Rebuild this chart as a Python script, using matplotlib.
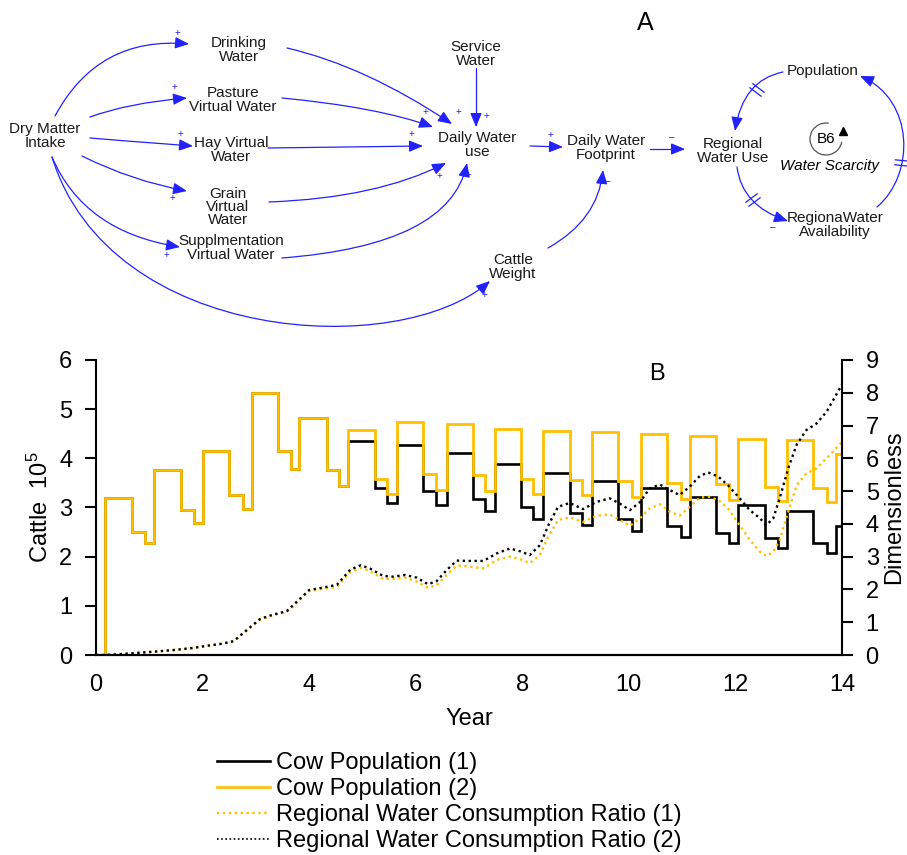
import matplotlib
matplotlib.use('Agg')
import matplotlib.pyplot as plt
from matplotlib.path import Path
from matplotlib.patches import FancyArrowPatch, Arc
from matplotlib.lines import Line2D

plt.rcParams['font.family'] = ['Liberation Sans', 'DejaVu Sans']
plt.rcParams['mathtext.default'] = 'regular'

# ---------------- panel B data ----------------
step_edges = [0, 0.17, 0.67, 0.92,
              1.09, 1.59, 1.84, 2.00, 2.50, 2.75, 2.92, 3.42, 3.66,
              3.81, 4.33, 4.56, 4.73, 5.23, 5.47, 5.65, 6.14, 6.39,
              6.58, 7.07, 7.30, 7.49, 7.98, 8.21, 8.39, 8.89, 9.13,
              9.31, 9.80, 10.05, 10.22, 10.71, 10.97, 11.14, 11.63, 11.88,
              12.05, 12.55, 12.80, 12.96, 13.46, 13.71, 13.88, 14.0]

cow_pop_2 = [0, 3.20, 2.51, 2.28,
             3.77, 2.95, 2.69, 4.15, 3.25, 2.96, 5.32, 4.14, 3.79,
             4.82, 3.76, 3.43, 4.57, 3.58, 3.27, 4.73, 3.68, 3.36,
             4.70, 3.66, 3.33, 4.59, 3.58, 3.27, 4.55, 3.56, 3.25,
             4.53, 3.54, 3.22, 4.49, 3.50, 3.18, 4.45, 3.47, 3.15,
             4.40, 3.42, 3.14, 4.37, 3.39, 3.12, 4.09]

cow_pop_1 = [0, 3.20, 2.51, 2.28,
             3.77, 2.95, 2.69, 4.15, 3.25, 2.96, 5.32, 4.14, 3.79,
             4.82, 3.76, 3.43, 4.36, 3.40, 3.10, 4.28, 3.33, 3.05,
             4.10, 3.18, 2.93, 3.88, 3.01, 2.76, 3.71, 2.88, 2.64,
             3.54, 2.76, 2.53, 3.39, 2.63, 2.39, 3.22, 2.49, 2.28,
             3.05, 2.38, 2.18, 2.93, 2.27, 2.08, 2.63]

ratio_t = [0, 0.17, 0.5, 0.83, 1.15, 1.45, 1.8, 2.08, 2.35, 2.58,
           2.83, 3.08, 3.3, 3.58, 3.83, 4.0, 4.27, 4.52, 4.77, 4.97,
           5.14, 5.39, 5.58, 5.8, 6.02, 6.23, 6.39, 6.58, 6.77, 6.99,
           7.27, 7.52, 7.77, 7.95, 8.14, 8.33, 8.49, 8.67, 8.89, 9.14,
           9.39, 9.64, 9.83, 10.02, 10.21, 10.39, 10.58, 10.77, 10.95, 11.14,
           11.33, 11.49, 11.68, 11.86, 12.08, 12.27, 12.46, 12.58, 12.71, 12.83,
           12.99, 13.15, 13.33, 13.52, 13.71, 14.0]

ratio_2 = [0, 0, 0.03, 0.07, 0.11, 0.15, 0.21, 0.28, 0.34, 0.42,
           0.76, 1.1, 1.22, 1.34, 1.72, 1.98, 2.06, 2.14, 2.6, 2.74,
           2.64, 2.41, 2.39, 2.44, 2.36, 2.16, 2.25, 2.59, 2.88, 2.87,
           2.87, 3.10, 3.25, 3.17, 3.05, 3.35, 3.96, 4.52, 4.64, 4.45,
           4.67, 4.78, 4.62, 4.42, 4.67, 5.08, 5.20, 5.03, 4.88, 5.13,
           5.46, 5.57, 5.44, 5.18, 4.78, 4.42, 4.17, 3.96, 4.17, 4.78,
           5.69, 6.42, 6.86, 7.06, 7.42, 8.25]

ratio_1 = [0, 0, 0.03, 0.07, 0.11, 0.15, 0.21, 0.28, 0.34, 0.42,
           0.75, 1.08, 1.2, 1.31, 1.68, 1.95, 2.02, 2.08, 2.52, 2.66,
           2.56, 2.32, 2.32, 2.36, 2.24, 2.05, 2.13, 2.44, 2.73, 2.70,
           2.64, 2.90, 3.0, 2.93, 2.80, 3.05, 3.61, 4.12, 4.20, 4.06,
           4.25, 4.29, 4.12, 3.94, 4.17, 4.47, 4.60, 4.37, 4.25, 4.52,
           4.80, 4.83, 4.73, 4.47, 3.96, 3.51, 3.15, 3.02, 3.15, 3.51,
           4.37, 5.18, 5.54, 5.69, 6.0, 6.5]

legend_labels = ['Cow Population (1)', 'Cow Population (2)',
                 'Regional Water Consumption Ratio (1)',
                 'Regional Water Consumption Ratio (2)']

# ---------------- panel A (causal loop diagram) ----------------
nodes = [
    ('Dry Matter\nIntake', 45, 136),
    ('Drinking\nWater', 239, 50),
    ('Pasture\nVirtual Water', 233, 100),
    ('Hay Virtual\nWater', 231, 150),
    ('Grain\nVirtual\nWater', 228, 207),
    ('Supplmentation\nVirtual Water', 231, 248),
    ('Service\nWater', 476, 54),
    ('Daily Water\nuse', 477, 145),
    ('Daily Water\nFootprint', 606, 148),
    ('Regional\nWater Use', 733, 151),
    ('Population', 823, 71),
    ('RegionaWater\nAvailability', 835, 225),
    ('Cattle\nWeight', 513, 267),
]

links = [
    [(55, 116), (98, 36), (189, 44)],
    [(90, 117), (128, 103), (187, 98)],
    [(90, 138), (125, 141), (193, 146)],
    [(82, 156), (132, 181), (187, 191)],
    [(52, 157), (84, 232), (180, 247)],
    [(52, 157), (110, 345), (400, 360), (490, 281)],
    [(287, 48), (365, 66), (452, 124)],
    [(282, 98), (377, 107), (433, 127)],
    [(268, 148), (345, 147), (423, 146)],
    [(269, 202), (377, 198), (446, 163)],
    [(282, 258), (450, 245), (467, 163)],
    [(476, 68), (476, 127)],
    [(530, 146), (563, 147)],
    [(650, 149), (685, 149)],
    [(548, 248), (598, 220), (603, 170)],
    [(783, 72), (743, 80), (735, 131)],
    [(737, 167), (742, 206), (788, 221)],
    [(877, 207), (915, 175), (915, 100), (860, 76)],
]

plus_signs = [(177, 33), (174, 87), (180, 134), (172, 198), (166, 255),
              (425, 112), (411, 134), (439, 176), (458, 112), (486, 116),
              (468, 175), (550, 135), (484, 295)]
minus_signs = [(672, 137), (608, 181), (773, 227)]
# delays: centre and curve direction
delays = [(757, 90, (-0.6, 0.8)), (753, 200, (0.6, 0.8)), (902, 163, (0.1, -1.0))]

blue = '#2222ff'
gold = '#FFC000'

fig = plt.figure(figsize=(9.07, 8.55), dpi=100)

axd = fig.add_axes([0, 1 - 330 / 855, 1, 330 / 855])
axd.set_xlim(0, 907)
axd.set_ylim(330, 0)
axd.axis('off')

for txt, x, y in nodes:
    axd.text(x, y, txt, ha='center', va='center', fontsize=11,
             linespacing=0.95, color='#1a1a1a')

codes_for = {2: [Path.MOVETO, Path.LINETO],
             3: [Path.MOVETO, Path.CURVE3, Path.CURVE3],
             4: [Path.MOVETO, Path.CURVE4, Path.CURVE4, Path.CURVE4]}
for pts in links:
    arr = FancyArrowPatch(path=Path(pts, codes_for[len(pts)]),
                          arrowstyle='-|>,head_length=0.65,head_width=0.27',
                          mutation_scale=13, color=blue, lw=0.9)
    axd.add_patch(arr)

for x, y in plus_signs:
    axd.text(x, y, '+', ha='center', va='center', fontsize=7, color=blue)
for x, y in minus_signs:
    axd.text(x, y, '\u2013', ha='center', va='center', fontsize=7, color='#333333')

for cx, cy, (dx, dy) in delays:
    n = (dx ** 2 + dy ** 2) ** 0.5
    dx, dy = dx / n, dy / n
    px, py = -dy, dx
    for off in (-2.5, 2.5):
        x0, y0 = cx + off * dx, cy + off * dy
        axd.plot([x0 - 7 * px, x0 + 7 * px], [y0 - 7 * py, y0 + 7 * py],
                 color=blue, lw=0.9)

axd.add_patch(Arc((826, 139), 32, 32, theta1=10, theta2=280, color='#555555', lw=0.9))
axd.plot(843, 131, marker='^', color='black', ms=6)
axd.text(826, 139, 'B6', ha='center', va='center', fontsize=11)
axd.text(829, 166, 'Water Scarcity', ha='center', va='center', fontsize=11,
         style='italic')
axd.text(645, 23, 'A', ha='center', va='center', fontsize=18)

# ---------------- panel B ----------------
ax = fig.add_axes([96 / 907, 200 / 855, 746 / 907, 295 / 855])
ax.stairs(cow_pop_1, step_edges, baseline=None, color='black', lw=1.9)
ax.stairs(cow_pop_2, step_edges, baseline=None, color=gold, lw=2.0)
ax.set_xlim(0, 14)
ax.set_ylim(0, 6)
ax.set_xticks(range(0, 15, 2))
ax.set_yticks(range(0, 7))

ax2 = ax.twinx()
dots = (0, (1, 1.5))
ax2.plot(ratio_t, ratio_1, color=gold, ls=dots, lw=1.7)
ax2.plot(ratio_t, ratio_2, color='black', ls=dots, lw=1.7)
ax2.set_ylim(0, 9)
ax2.set_yticks(range(0, 10))

for a in (ax, ax2):
    a.spines['top'].set_visible(False)
    for s in a.spines.values():
        s.set_linewidth(1.5)
ax.spines['right'].set_visible(False)
ax2.spines['left'].set_visible(False)

ax.tick_params(axis='y', direction='out', length=8, width=1.5, labelsize=17, pad=9)
ax.tick_params(axis='x', length=0, labelsize=17, pad=14)
ax2.tick_params(axis='y', direction='out', length=8, width=1.5, labelsize=17, pad=9)

ax.set_ylabel('Cattle  10$^5$', fontsize=17)
ax.yaxis.set_label_coords(-0.058, 0.5)
ax2.set_ylabel('Dimensionless', fontsize=17)
ax2.yaxis.set_label_coords(1.055, 0.5)
ax.set_xlabel('Year', fontsize=17)
ax.xaxis.set_label_coords(0.5, -0.18)

ax.text(0.752, 0.953, 'B', transform=ax.transAxes, ha='center', va='center',
        fontsize=17)

handles = [Line2D([], [], color='black', lw=1.9),
           Line2D([], [], color=gold, lw=1.9),
           Line2D([], [], color=gold, ls=dots, lw=1.7),
           Line2D([], [], color='black', ls=dots, lw=1.2)]
fig.legend(handles, legend_labels, loc='upper left',
           bbox_to_anchor=(217 / 907, 1 - 752 / 855), frameon=False,
           fontsize=17, handlelength=2.25, handletextpad=0.25,
           labelspacing=0.17, borderpad=0, borderaxespad=0)

fig.savefig('out.png', dpi=100)
